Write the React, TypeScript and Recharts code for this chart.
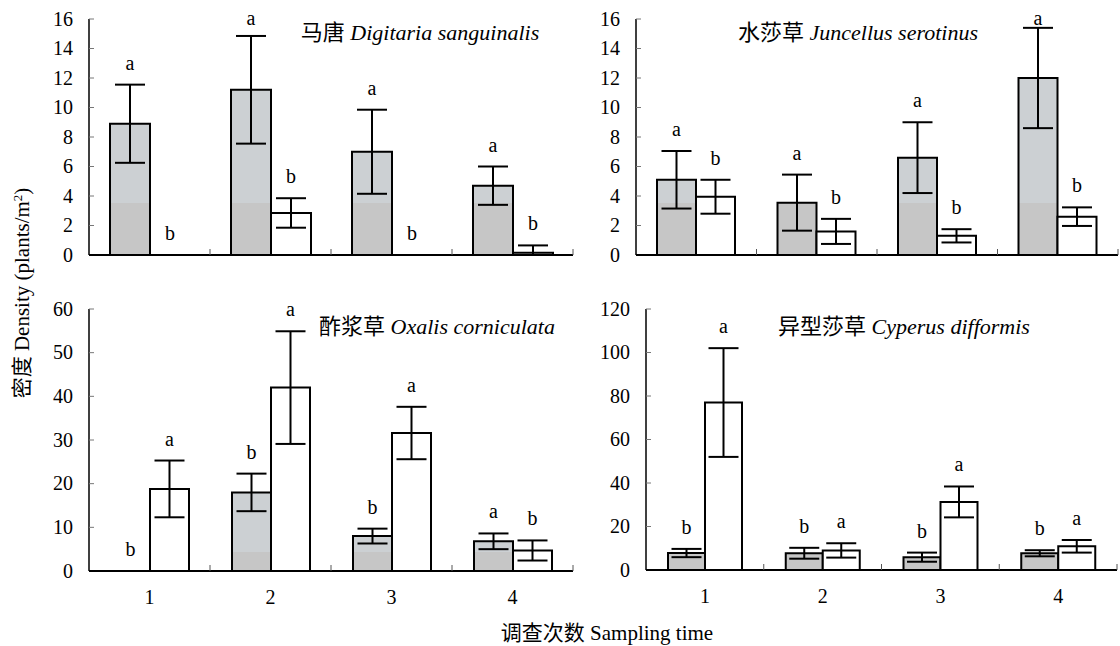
import React from 'react';
import { BarChart, Bar, XAxis, YAxis, ErrorBar, LabelList, Cell } from 'recharts';

const samplingTimes = ['1', '2', '3', '4'];

// 马唐 Digitaria sanguinalis
const digitariaShaded = [8.9, 11.2, 7.0, 4.7];
const digitariaShadedErr = [2.65, 3.65, 2.85, 1.3];
const digitariaOpen = [0, 2.85, 0, 0.15];
const digitariaOpenErr = [0, 1.0, 0, 0.5];
const digitariaShadedSig = ['a', 'a', 'a', 'a'];
const digitariaOpenSig = ['b', 'b', 'b', 'b'];

// 水莎草 Juncellus serotinus
const juncellusShaded = [5.1, 3.55, 6.6, 12.0];
const juncellusShadedErr = [1.95, 1.9, 2.4, 3.4];
const juncellusOpen = [3.95, 1.6, 1.3, 2.6];
const juncellusOpenErr = [1.15, 0.85, 0.45, 0.63];
const juncellusShadedSig = ['a', 'a', 'a', 'a'];
const juncellusOpenSig = ['b', 'b', 'b', 'b'];

// 酢浆草 Oxalis corniculata
const oxalisShaded = [0, 18.0, 8.0, 6.8];
const oxalisShadedErr = [0, 4.3, 1.7, 1.8];
const oxalisOpen = [18.8, 42.0, 31.6, 4.7];
const oxalisOpenErr = [6.5, 12.9, 6.0, 2.3];
const oxalisShadedSig = ['b', 'b', 'b', 'a'];
const oxalisOpenSig = ['a', 'a', 'a', 'b'];

// 异型莎草 Cyperus difformis
const cyperusShaded = [7.8, 7.7, 5.9, 7.7];
const cyperusShadedErr = [1.9, 2.5, 2.1, 1.4];
const cyperusOpen = [77.0, 9.0, 31.3, 10.9];
const cyperusOpenErr = [25.0, 3.3, 7.1, 2.9];
const cyperusShadedSig = ['b', 'b', 'b', 'b'];
const cyperusOpenSig = ['a', 'a', 'a', 'a'];

const ticks16 = [0, 2, 4, 6, 8, 10, 12, 14, 16];
const ticks60 = [0, 10, 20, 30, 40, 50, 60];
const ticks120 = [0, 20, 40, 60, 80, 100, 120];

const FONT = '"Liberation Serif", Tinos, "Times New Roman", "DejaVu Serif", "Noto Sans CJK SC", serif';
const LIGHT = '#ccd0d3';
const DARK = '#c6c6c6';

interface PanelProps {
  id: string;
  left: number;
  top: number;
  width: number;
  height: number;
  margin: { top: number; right: number; bottom: number; left: number };
  yAxisWidth: number;
  xAxisHeight: number;
  yMax: number;
  yTicks: number[];
  barSize: number;
  splitY: number;
  showXLabels: boolean;
  shaded: number[];
  shadedErr: number[];
  open: number[];
  openErr: number[];
  shadedSig: string[];
  openSig: string[];
}

function Panel(p: PanelProps) {
  // lower whisker never goes below the axis
  const data = samplingTimes.map((t, i) => ({
    time: t,
    shaded: p.shaded[i],
    shadedErr: [Math.min(p.shadedErr[i], p.shaded[i]), p.shadedErr[i]],
    open: p.open[i],
    openErr: [Math.min(p.openErr[i], p.open[i]), p.openErr[i]],
    shadedSig: p.shadedSig[i],
    openSig: p.openSig[i],
  }));

  const plotH = p.height - p.margin.top - p.margin.bottom - p.xAxisHeight;
  const plotW = p.width - p.margin.left - p.margin.right - p.yAxisWidth;
  const pxPerUnit = plotH / p.yMax;
  const band = plotW / samplingTimes.length;

  const sigLabel = (errs: number[]) => (props: any) => {
    const vb = props.viewBox || {};
    const x = props.x ?? vb.x;
    const y = props.y ?? vb.y;
    const w = props.width ?? vb.width;
    const h = props.height ?? vb.height ?? 0;
    const top = Math.min(y, y + h);
    const errTop = top - (errs[props.index] || 0) * pxPerUnit;
    const cy = Math.max(errTop - 20, 20);
    return (
      <text
        x={x + w / 2}
        y={cy + 5}
        textAnchor="middle"
        style={{ fontFamily: FONT, fontSize: 20 }}
        fill="#000"
      >
        {props.value}
      </text>
    );
  };

  const XTick = (props: any) => {
    const { x, y, payload } = props;
    return (
      <g>
        <line x1={x + band / 2} x2={x + band / 2} y1={y} y2={y - 6} stroke="#555" strokeWidth={1} />
        {p.showXLabels && (
          <text x={x} y={y + 33} textAnchor="middle" style={{ fontFamily: FONT, fontSize: 20 }} fill="#000">
            {payload.value}
          </text>
        )}
      </g>
    );
  };

  const YTick = (props: any) => {
    const { x, y, payload } = props;
    return (
      <g>
        {payload.value !== 0 && <line x1={x} x2={x + 5} y1={y} y2={y} stroke="#777" strokeWidth={1} />}
        <text x={x - 16} y={y + 6.5} textAnchor="end" style={{ fontFamily: FONT, fontSize: 20 }} fill="#000">
          {payload.value}
        </text>
      </g>
    );
  };

  const split = p.splitY / p.height;
  const keepZero = (v: number) => (v === 0 ? 0.5 : 0);

  return (
    <div style={{ position: 'absolute', left: p.left, top: p.top, width: p.width, height: p.height }}>
      <BarChart
        width={p.width}
        height={p.height}
        data={data}
        margin={p.margin}
        barGap={0}
        barSize={p.barSize}
        style={{ overflow: 'visible' }}
      >
        <defs>
          <linearGradient id={`fill-${p.id}`} gradientUnits="userSpaceOnUse" x1={0} y1={0} x2={0} y2={p.height}>
            <stop offset={0} stopColor={LIGHT} />
            <stop offset={split} stopColor={LIGHT} />
            <stop offset={split} stopColor={DARK} />
            <stop offset={1} stopColor={DARK} />
          </linearGradient>
        </defs>
        <XAxis
          dataKey="time"
          height={p.xAxisHeight}
          axisLine={{ stroke: '#000', strokeWidth: 2 }}
          tickLine={false}
          tickSize={0}
          tickMargin={0}
          interval={0}
          tick={XTick}
        />
        <YAxis
          width={p.yAxisWidth}
          domain={[0, p.yMax]}
          ticks={p.yTicks}
          interval={0}
          allowDataOverflow
          axisLine={{ stroke: '#000', strokeWidth: 1.5 }}
          tickLine={false}
          tickSize={0}
          tickMargin={0}
          tick={YTick}
        />
        <Bar
          dataKey="shaded"
          fill={`url(#fill-${p.id})`}
          stroke="#000"
          strokeWidth={2}
          minPointSize={keepZero}
          isAnimationActive={false}
        >
          {p.shaded.map((v, i) => (
            <Cell key={i} stroke={v === 0 ? 'none' : '#000'} fill={v === 0 ? 'none' : `url(#fill-${p.id})`} />
          ))}
          <ErrorBar dataKey="shadedErr" direction="y" width={15} stroke="#000" strokeWidth={2} />
          <LabelList dataKey="shadedSig" content={sigLabel(p.shadedErr)} />
        </Bar>
        <Bar
          dataKey="open"
          fill="#fff"
          stroke="#000"
          strokeWidth={2}
          minPointSize={keepZero}
          isAnimationActive={false}
        >
          {p.open.map((v, i) => (
            <Cell key={i} stroke={v === 0 ? 'none' : '#000'} fill={v === 0 ? 'none' : '#fff'} />
          ))}
          <ErrorBar dataKey="openErr" direction="y" width={15} stroke="#000" strokeWidth={2} />
          <LabelList dataKey="openSig" content={sigLabel(p.openErr)} />
        </Bar>
      </BarChart>
    </div>
  );
}

export default function App() {
  return (
    <div
      style={{
        position: 'absolute',
        left: 0,
        top: 0,
        width: 1120,
        height: 646,
        background: '#fff',
        overflow: 'hidden',
        fontFamily: FONT,
      }}
    >
      <Panel
        id="dig"
        left={0}
        top={0}
        width={590}
        height={290}
        margin={{ top: 19, right: 17, bottom: 15, left: 29 }}
        yAxisWidth={60}
        xAxisHeight={20}
        yMax={16}
        yTicks={ticks16}
        barSize={40}
        splitY={203}
        showXLabels={false}
        shaded={digitariaShaded}
        shadedErr={digitariaShadedErr}
        open={digitariaOpen}
        openErr={digitariaOpenErr}
        shadedSig={digitariaShadedSig}
        openSig={digitariaOpenSig}
      />
      <Panel
        id="jun"
        left={560}
        top={0}
        width={560}
        height={290}
        margin={{ top: 19, right: 2, bottom: 15, left: 26 }}
        yAxisWidth={50}
        xAxisHeight={20}
        yMax={16}
        yTicks={ticks16}
        barSize={39}
        splitY={203}
        showXLabels={false}
        shaded={juncellusShaded}
        shadedErr={juncellusShadedErr}
        open={juncellusOpen}
        openErr={juncellusOpenErr}
        shadedSig={juncellusShadedSig}
        openSig={juncellusOpenSig}
      />
      <Panel
        id="oxa"
        left={0}
        top={290}
        width={590}
        height={320}
        margin={{ top: 19, right: 17, bottom: 9, left: 29 }}
        yAxisWidth={60}
        xAxisHeight={30}
        yMax={60}
        yTicks={ticks60}
        barSize={39}
        splitY={262}
        showXLabels
        shaded={oxalisShaded}
        shadedErr={oxalisShadedErr}
        open={oxalisOpen}
        openErr={oxalisOpenErr}
        shadedSig={oxalisShadedSig}
        openSig={oxalisOpenSig}
      />
      <Panel
        id="cyp"
        left={560}
        top={290}
        width={560}
        height={320}
        margin={{ top: 19, right: 3, bottom: 10, left: 26 }}
        yAxisWidth={60}
        xAxisHeight={30}
        yMax={120}
        yTicks={ticks120}
        barSize={37}
        splitY={262}
        showXLabels
        shaded={cyperusShaded}
        shadedErr={cyperusShadedErr}
        open={cyperusOpen}
        openErr={cyperusOpenErr}
        shadedSig={cyperusShadedSig}
        openSig={cyperusOpenSig}
      />
      <svg
        width={1120}
        height={646}
        style={{ position: 'absolute', left: 0, top: 0, pointerEvents: 'none', fontFamily: FONT }}
        fill="#000"
      >
        <text x={420} y={40} textAnchor="middle" fontSize={22}>
          马唐 <tspan fontStyle="italic">Digitaria sanguinalis</tspan>
        </text>
        <text x={858} y={40} textAnchor="middle" fontSize={22}>
          水莎草 <tspan fontStyle="italic">Juncellus serotinus</tspan>
        </text>
        <text x={437} y={334} textAnchor="middle" fontSize={22}>
          酢浆草 <tspan fontStyle="italic">Oxalis corniculata</tspan>
        </text>
        <text x={904} y={334} textAnchor="middle" fontSize={22}>
          异型莎草 <tspan fontStyle="italic">Cyperus difformis</tspan>
        </text>
        <text x={607} y={640} textAnchor="middle" fontSize={21}>
          调查次数 Sampling time
        </text>
        <text transform="translate(29,293) rotate(-90)" textAnchor="middle" fontSize={21}>
          密度 Density (plants/m<tspan dy={-7} fontSize={13}>2</tspan>
          <tspan dy={7}>)</tspan>
        </text>
      </svg>
    </div>
  );
}
